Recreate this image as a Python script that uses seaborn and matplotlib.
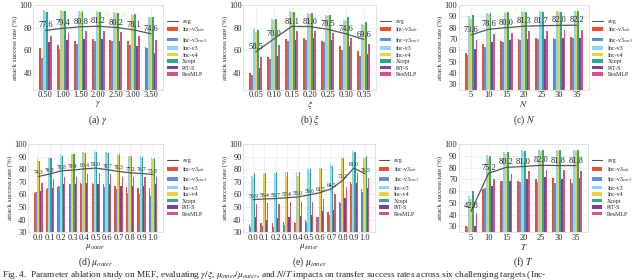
import numpy as np
import pandas as pd
import matplotlib
matplotlib.use('Agg')
import matplotlib.pyplot as plt
import seaborn as sns
from matplotlib.lines import Line2D

''' DATA '''
models = ['Inc-v3$_{adv}$', 'Inc-v3$_{ens3}$', 'Inc-v3', 'Inc-v4', 'Xcept', 'PiT-S', 'ResMLP']
colors = ['#E9502E', '#5E8FDA', '#8FD3F7', '#F0D03E', '#2FA78E', '#7E3F9D', '#D8527C']

gamma_ticks = ['0.50', '1.00', '1.50', '2.00', '2.50', '3.00', '3.50']
gamma_avg = [77.6, 79.4, 80.8, 81.2, 80.2, 78.1, 74.6]
gamma_vals = [[62, 53, 96, 94, 94, 67, 73],
              [65, 61, 96, 95, 95, 69, 75],
              [68, 66, 95, 94, 95, 70, 77],
              [70, 68, 95, 94, 94, 70, 77],
              [69, 68, 94, 93, 93, 68, 76],
              [68, 65, 92, 91, 92, 64, 73],
              [63, 62, 89, 89, 89, 58, 69]]

xi_ticks = ['0.05', '0.10', '0.15', '0.20', '0.25', '0.30', '0.35']
xi_avg = [58.5, 70.0, 81.1, 81.0, 78.5, 74.6, 69.6]
xi_vals = [[40, 38, 79, 76, 78, 44, 54],
           [54, 52, 88, 87, 88, 55, 65],
           [70, 68, 95, 94, 94, 69, 77],
           [71, 69, 93, 92, 93, 71, 77],
           [68, 67, 91, 90, 91, 69, 75],
           [64, 60, 87, 86, 89, 64, 71],
           [59, 55, 83, 82, 85, 57, 66]]

n_ticks = ['5', '10', '15', '20', '25', '30', '35']
n_avg = [73.6, 78.6, 80.0, 81.3, 81.7, 82.0, 82.2]
n_vals = [[58, 56, 90, 88, 91, 61, 69],
          [66, 63, 93, 92, 93, 67, 74],
          [68, 67, 94, 93, 94, 69, 75],
          [70, 69, 95, 94, 94, 70, 77],
          [71, 70, 95, 94, 94, 70, 77],
          [71, 70, 95, 94, 94, 71, 78],
          [72, 71, 95, 94, 95, 71, 78]]

mu_ticks = ['0.0', '0.1', '0.2', '0.3', '0.4', '0.5', '0.6', '0.7', '0.8', '0.9', '1.0']
outer_avg = [74.3, 76.3, 78.8, 79.4, 80.4, 81.0, 79.7, 78.3, 77.2, 76.7, 75.8]
outer_vals = [[61, 62, 88, 87, 87, 63, 69],
              [64, 65, 89, 89, 89, 65, 72],
              [66, 67, 92, 91, 91, 68, 74],
              [68, 68, 92, 92, 92, 68, 74],
              [69, 68, 94, 93, 93, 69, 76],
              [69, 68, 95, 94, 94, 68, 77],
              [68, 66, 94, 93, 93, 68, 76],
              [67, 64, 92, 91, 92, 67, 74],
              [66, 61, 91, 91, 91, 67, 74],
              [65, 60, 91, 90, 90, 67, 74],
              [65, 59, 89, 88, 89, 68, 74]]

inner_avg = [55.9, 56.4, 56.7, 57.4, 58.0, 59.6, 61.5, 64.5, 71.2, 81.0, 76.5]
inner_vals = [[36, 34, 75, 73, 77, 42, 52],
              [37, 35, 76, 76, 77, 40, 53],
              [37, 34, 77, 76, 78, 41, 52],
              [38, 36, 78, 75, 78, 42, 54],
              [38, 37, 78, 75, 78, 43, 54],
              [40, 38, 80, 78, 80, 44, 54],
              [42, 42, 81, 80, 81, 47, 56],
              [46, 44, 85, 83, 83, 48, 60],
              [54, 53, 90, 89, 89, 57, 66],
              [70, 68, 95, 93, 94, 69, 77],
              [64, 62, 90, 89, 91, 65, 73]]

t_ticks = ['5', '10', '15', '20', '25', '30', '35']
t_avg = [42.8, 75.2, 80.2, 81.0, 82.0, 81.8, 81.8]
t_vals = [[30, 29, 56, 53, 60, 30, 41],
          [62, 63, 91, 88, 90, 64, 70],
          [69, 69, 93, 92, 93, 69, 75],
          [69, 68, 95, 93, 94, 70, 77],
          [70, 68, 95, 94, 95, 72, 78],
          [71, 67, 95, 94, 95, 70, 78],
          [70, 67, 95, 94, 95, 71, 77]]

''' STYLE '''
sns.set_theme(style='whitegrid')
plt.rcParams['font.family'] = ['Liberation Serif', 'DejaVu Serif']
plt.rcParams['mathtext.fontset'] = 'stix'
plt.rcParams['axes.edgecolor'] = '#dddddd'
plt.rcParams['grid.color'] = '#ebebeb'
plt.rcParams['grid.linewidth'] = 0.5
plt.rcParams['axes.linewidth'] = 0.6

fig = plt.figure(figsize=(6.4, 2.8), dpi=100)

''' FUNCTIONS '''
def panel(rect, ticks, vals, avg, xlabel, ylim, yticks, lab_fs, caption):
    ax = fig.add_axes(rect)
    df = pd.DataFrame(vals, columns=models)
    df['param'] = ticks
    long = df.melt(id_vars='param', var_name='model', value_name='rate')
    sns.barplot(data=long, x='param', y='rate', hue='model', order=ticks,
                hue_order=models, palette=colors, width=0.72, ax=ax,
                saturation=1, linewidth=0)
    xs = np.arange(len(ticks))
    ax.plot(xs, avg, color='#555555', lw=0.9, zorder=4)
    for x, v in zip(xs, avg):
        ax.text(x, v + 0.8, '%.1f' % v, ha='center', va='bottom',
                fontsize=lab_fs, color='#222222', zorder=5)
    ax.set_ylim(*ylim)
    ax.set_yticks(yticks)
    ax.xaxis.grid(True)
    ax.set_axisbelow(True)
    ax.tick_params(axis='both', labelsize=6, pad=1, length=0)
    ax.set_xlabel(xlabel, fontsize=6.5, labelpad=0)
    ax.set_ylabel('attack success rate (%)', fontsize=5, labelpad=1)
    h, l = ax.get_legend_handles_labels()
    avg_h = Line2D([], [], color='#555555', lw=0.8)
    ax.legend([avg_h] + h, ['avg'] + l, loc='upper left',
              bbox_to_anchor=(1.0, 0.88), frameon=False, fontsize=4.3,
              handlelength=1.8, handleheight=0.6, labelspacing=0.25,
              borderaxespad=0.2)
    fig.text(rect[0] + rect[2] / 2, caption[1], caption[0],
             ha='center', va='center', fontsize=7)
    return ax

''' EXECUTE '''
top_y, top_h = 0.679, 0.303
bot_y, bot_h = 0.171, 0.314
panel([0.052, top_y, 0.203, top_h], gamma_ticks, gamma_vals, gamma_avg,
      r'$\gamma$', (25, 100), [40, 60, 80, 100], 6, (r'(a) $\gamma$', 0.571))
panel([0.380, top_y, 0.208, top_h], xi_ticks, xi_vals, xi_avg,
      r'$\xi$', (25, 100), [40, 60, 80, 100], 6, (r'(b) $\xi$', 0.571))
panel([0.717, top_y, 0.203, top_h], n_ticks, n_vals, n_avg,
      r'$N$', (25, 100), list(range(30, 101, 10)), 6, (r'(c) $N$', 0.571))
panel([0.044, bot_y, 0.211, bot_h], mu_ticks, outer_vals, outer_avg,
      r'$\mu_{outer}$', (30, 100), list(range(30, 101, 10)), 4, (r'(d) $\mu_{outer}$', 0.064))
panel([0.380, bot_y, 0.206, bot_h], mu_ticks, inner_vals, inner_avg,
      r'$\mu_{inner}$', (30, 100), list(range(30, 101, 10)), 4, (r'(e) $\mu_{inner}$', 0.064))
panel([0.717, bot_y, 0.202, bot_h], t_ticks, t_vals, t_avg,
      r'$T$', (25, 100), list(range(30, 101, 10)), 6, (r'(f) $T$', 0.064))

fig.text(0.003, 0.018,
         r'Fig. 4.  Parameter ablation study on MEF, evaluating $\gamma/\xi$, $\mu_{inner}/\mu_{outer}$, '
         r'and $N/T$ impacts on transfer success rates across six challenging targets (Inc-',
         ha='left', va='center', fontsize=6.7)

plt.savefig('out.png', dpi=100)
